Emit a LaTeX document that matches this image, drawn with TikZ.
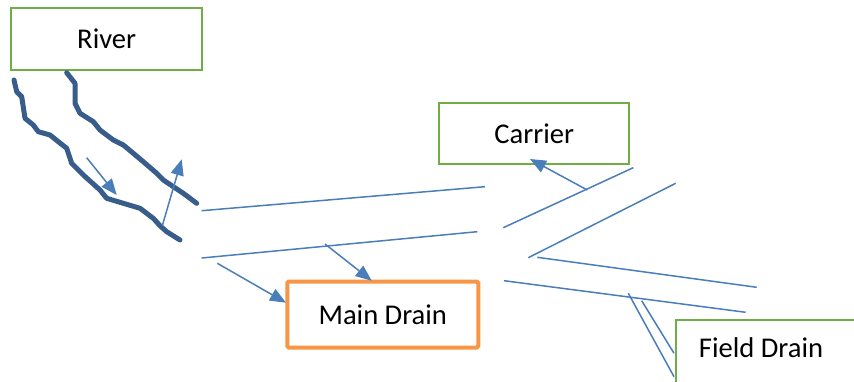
\documentclass[tikz,border=0pt]{standalone}
\usepackage{fontspec}
\setmainfont{Carlito}
\usetikzlibrary{arrows.meta}
\definecolor{gboxc}{HTML}{70AD47}
\definecolor{oboxc}{HTML}{F79646}
\definecolor{lblue}{HTML}{4A7EBB}
\definecolor{rblue}{HTML}{385D8A}
\tikzset{
  gbox/.style={draw=gboxc, line width=2pt, fill=white, inner sep=0pt, font=\fontsize{28.6}{34}\selectfont},
  obox/.style={draw=oboxc, line width=4pt, fill=white, rounded corners=1.5pt, inner sep=0pt, font=\fontsize{28.6}{34}\selectfont},
  lbl/.style={inner sep=0pt, font=\fontsize{28.6}{34}\selectfont},
  chan/.style={draw=lblue, line width=1.5pt},
  flow/.style={draw=lblue, line width=1.5pt, -{Triangle[length=16pt,width=13pt]}},
  bank/.style={draw=rblue, line width=5pt, line join=round, line cap=round},
}
\begin{document}
\begin{tikzpicture}[x=1pt,y=-1pt]
\useasboundingbox (0,0) rectangle (854,382);
\clip (0,0) rectangle (854,382);
% boxes
\node[gbox, minimum width=191pt, minimum height=62pt] (river) at (106.7,39.2) {River};
\node[gbox, minimum width=190pt, minimum height=61pt] (carrier) at (534.2,133.7) {Carrier};
\node[obox, minimum width=191pt, minimum height=66pt] (main) at (382.8,314.5) {Main Drain};
% river banks
\draw[bank] (14,80) -- (16.7,91.7) -- (21.7,96.7) -- (25,118.3) -- (33.3,125) -- (38.3,131.7) -- (50,135) -- (58.3,141.7) -- (66.7,148.3) -- (71.7,163.3) -- (83.3,175) -- (100,190) -- (106.7,198.3) -- (123.3,203.3) -- (140,208.3) -- (153.3,218.3) -- (160,225.7) -- (166.7,231.7) -- (180,240);
\draw[bank] (66.7,72.7) -- (75,83.3) -- (75,103.3) -- (80,113.3) -- (93.3,121.7) -- (100,130) -- (113.3,140) -- (123.3,145) -- (133.3,153.3) -- (143.3,161.7) -- (156.7,173.3) -- (163.3,180) -- (173.3,186.7) -- (183.3,193.3) -- (196.7,203.3);
% channel lines
\coordinate (c1a) at (201.7,210.7); \coordinate (c1b) at (485,186.7);
\coordinate (c2a) at (201.7,258);   \coordinate (c2b) at (477.3,231.7);
\coordinate (c3a) at (503.3,227.7); \coordinate (c3b) at (633.3,167.7);
\coordinate (c4a) at (528.3,257.7); \coordinate (c4b) at (675.7,183.3);
\coordinate (c5a) at (537.3,257.3); \coordinate (c5b) at (756.7,287.3);
\coordinate (c6a) at (504,280.7);   \coordinate (c6b) at (745.7,312.3);
\coordinate (c7a) at (628.3,293.3); \coordinate (c7b) at (674,376.7);
\coordinate (c8a) at (641.7,300.7); \coordinate (c8b) at (674,353.3);
\draw[chan] (c1a) -- (c1b);
\draw[chan] (c2a) -- (c2b);
\draw[chan] (c3a) -- (c3b);
\draw[chan] (c4a) -- (c4b);
\draw[chan] (c5a) -- (c5b);
\draw[chan] (c6a) -- (c6b);
\draw[chan] (c7a) -- (c7b);
\draw[chan] (c8a) -- (c8b);
% field drain box (runs past the right and bottom edges)
\node[gbox, anchor=north west, minimum width=220pt, minimum height=64pt] (field) at (675,319) {};
\node[lbl] (fieldlbl) at (761,348) {Field Drain};
% flow arrows
\coordinate (f1a) at (86.7,157.7);  \coordinate (f1b) at (116.7,195);
\coordinate (f2a) at (162.3,225.7); \coordinate (f2b) at (181.7,159.3);
\coordinate (f3a) at (217.3,263.3); \coordinate (f3b) at (286,302.7);
\coordinate (f4a) at (325,244);     \coordinate (f4b) at (371.7,280.7);
\coordinate (f5a) at (587.3,190);   \coordinate (f5b) at (530,159);
\draw[flow] (f1a) -- (f1b);
\draw[flow] (f2a) -- (f2b);
\draw[flow] (f3a) -- (f3b);
\draw[flow] (f4a) -- (f4b);
\draw[flow] (f5a) -- (f5b);
\end{tikzpicture}
\end{document}
